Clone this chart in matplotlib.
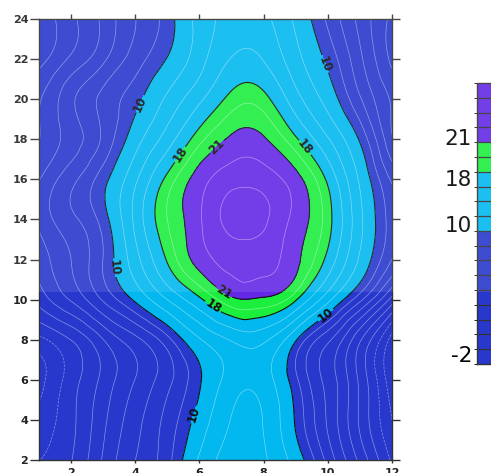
import numpy as np
import matplotlib
matplotlib.use("Agg")
import matplotlib.pyplot as plt
import matplotlib.tri as mtri
from matplotlib.colors import ListedColormap, BoundaryNorm
from matplotlib.cm import ScalarMappable
from matplotlib.patches import Rectangle

# ---------------- data ----------------
X_VALUES = [1, 2, 3, 4, 5, 6, 7, 8, 9, 10, 11, 12]
Y_VALUES = [2, 4, 6, 8, 10, 12, 14, 16, 18, 20, 22, 24]

Z_Y02 = [-0.7, 0.6, 3.5, 6.0, 8.2, 12.3, 14.9, 14.3, 11.1, 6.9, 3.0, -0.9]
Z_Y04 = [-1.5, 0.3, 3.0, 5.5, 7.8, 10.8, 14.1, 13.9, 9.8, 5.8, 1.8, -2.0]
Z_Y06 = [-2.5, 0.0, 2.4, 4.7, 6.9, 9.8, 12.9, 13.0, 9.0, 5.5, 1.7, -3.0]
Z_Y08 = [-1.0, 0.7, 3.3, 5.6, 8.2, 11.8, 14.2, 14.4, 10.2, 6.3, 2.2, -2.6]
Z_Y10 = [2.5, 4.8, 7.5, 10.3, 14.0, 17.6, 20.6, 20.7, 18.2, 12.6, 7.7, 2.8]
Z_Y12 = [3.8, 6.0, 8.7, 13.2, 18.2, 21.7, 23.0, 23.0, 21.4, 17.4, 11.7, 7.3]
Z_Y14 = [5.0, 7.0, 9.3, 14.5, 19.5, 22.3, 24.6, 24.3, 22.0, 18.7, 12.5, 8.0]
Z_Y16 = [4.6, 6.9, 9.45, 13.6, 18.5, 21.8, 23.4, 23.3, 21.6, 17.6, 11.7, 7.1]
Z_Y18 = [3.3, 5.3, 7.6, 11.1, 15.0, 19.0, 21.3, 21.2, 18.3, 14.2, 9.8, 4.8]
Z_Y20 = [3.2, 5.7, 7.7, 9.5, 12.4, 15.6, 18.6, 18.6, 14.8, 11.2, 7.5, 4.5]
Z_Y22 = [1.5, 3.6, 5.7, 8.0, 10.1, 13.2, 16.1, 15.9, 12.7, 9.6, 6.3, 3.0]
Z_Y24 = [1.0, 3.0, 5.0, 7.3, 9.3, 12.8, 14.6, 14.5, 11.6, 8.4, 5.6, 3.0]

LEVELS = [-2, -0.667, 0.667, 2, 3.333, 4.667, 6, 7.333, 8.667, 10,
          12, 14, 16, 18, 19.5, 21, 22.5, 24, 25.5, 27]
LABELED_LEVELS = [10, 18, 21]
X_TICKS = [2, 4, 6, 8, 10, 12]
Y_TICKS = [2, 4, 6, 8, 10, 12, 14, 16, 18, 20, 22, 24]
CB_LABELS = ["21", "18", "10", "-2"]
CB_LABEL_AT = [21.5, 17.1, 10.9, -1.1]
LABEL_POS = [(4.25, 19.7), (5.34, 17.3), (6.34, 17.95), (9.37, 17.7),
             (9.82, 21.7), (3.47, 11.6), (6.75, 10.3), (6.4, 9.6),
             (10.0, 9.1), (5.78, 4.3)]

# ---------------- style ----------------
BLUE = "#2838cc"
CYAN = "#02b8ef"
GREEN = "#1cee3e"
PURPLE = "#6428e6"

band_colors = []
for lo in LEVELS[:-1]:
    if lo < 10:
        band_colors.append(BLUE)
    elif lo < 18:
        band_colors.append(CYAN)
    elif lo < 21:
        band_colors.append(GREEN)
    else:
        band_colors.append(PURPLE)
cmap = ListedColormap(band_colors)
cmap.set_under(BLUE)
cmap.set_over(PURPLE)
norm = BoundaryNorm(LEVELS, len(band_colors))

Z = np.array([Z_Y02, Z_Y04, Z_Y06, Z_Y08, Z_Y10, Z_Y12,
              Z_Y14, Z_Y16, Z_Y18, Z_Y20, Z_Y22, Z_Y24], dtype=float)
Xg, Yg = np.meshgrid(X_VALUES, Y_VALUES)

triang = mtri.Triangulation(Xg.ravel(), Yg.ravel())
interp = mtri.CubicTriInterpolator(triang, Z.ravel(), kind="min_E")
refiner = mtri.UniformTriRefiner(triang)
tri_r, z_r = refiner.refine_field(Z.ravel(), triinterpolator=interp, subdiv=4)

W, H = 491, 473
fig = plt.figure(figsize=(W / 100, H / 100), dpi=100)
ax = fig.add_axes([39 / W, 13 / H, 353 / W, 441 / H])

ax.tricontourf(tri_r, z_r, levels=LEVELS, cmap=cmap, norm=norm, extend="both")
white_levels = [l for l in LEVELS if l not in LABELED_LEVELS]
ax.tricontour(tri_r, z_r, levels=white_levels, colors="white",
              linewidths=0.5, alpha=0.45)
cs = ax.tricontour(tri_r, z_r, levels=LABELED_LEVELS, colors="#111111",
                   linewidths=0.8)
labels = ax.clabel(cs, fmt="%d", fontsize=8.5, manual=LABEL_POS,
                   inline=True, inline_spacing=2, colors="#111111")
for t in labels:
    t.set_fontweight("bold")

ax.set_xlim(1, 12)
ax.set_ylim(2, 24)
ax.set_xticks(X_TICKS)
ax.set_yticks(Y_TICKS)
ax.tick_params(axis="both", direction="out", top=True, right=True,
               labeltop=False, labelright=False, width=1.0, color="#333333",
               labelcolor="#222222")
ax.tick_params(axis="x", length=2.2, pad=3.5)
ax.tick_params(axis="y", length=6.5, pad=1.2)
for t in ax.xaxis.get_major_ticks():
    t.tick2line.set_markersize(3.6)
for t in ax.yaxis.get_major_ticks():
    t.tick2line.set_markersize(5.8)
for lab in ax.get_xticklabels() + ax.get_yticklabels():
    lab.set_fontfamily("DejaVu Sans")
    lab.set_fontweight("bold")
    lab.set_fontsize(8)
for s in ax.spines.values():
    s.set_color("#333333")
    s.set_linewidth(1.0)

# colorbar
cax = fig.add_axes([477 / W, (H - 364) / H, 20 / W, 281 / H])
sm = ScalarMappable(norm=norm, cmap=cmap)
cb = fig.colorbar(sm, cax=cax, spacing="uniform", drawedges=True,
                  extend="neither")
cb.outline.set_edgecolor("#333333")
cb.outline.set_linewidth(1.0)
cb.dividers.set_color("#333333")
cb.dividers.set_linewidth(0.9)
cax.yaxis.set_ticks_position("left")
cb.set_ticks(CB_LABEL_AT, labels=CB_LABELS)
cax.tick_params(length=0, pad=3.5, labelcolor="#000000")
for lab in cax.get_yticklabels():
    lab.set_fontfamily(["Liberation Sans Narrow", "DejaVu Sans"])
    lab.set_fontsize(15.5)

# light wash over the upper part of the picture
y0 = (H - 292) / H
fig.add_artist(Rectangle((0, y0), 1, 1 - y0, transform=fig.transFigure,
                         facecolor="white", edgecolor="none", alpha=0.1,
                         zorder=10))

fig.savefig("out.png", dpi=100)
